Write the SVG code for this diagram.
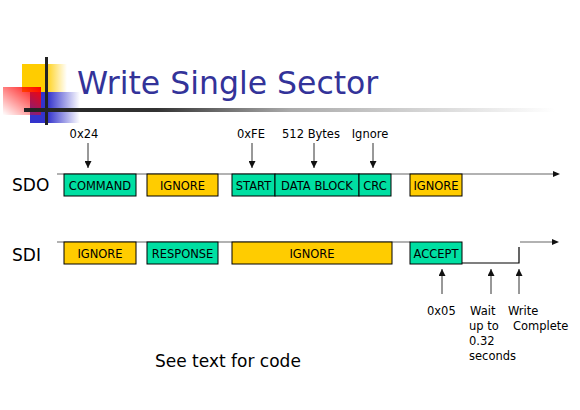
<svg xmlns="http://www.w3.org/2000/svg" width="580" height="410" viewBox="0 0 580 410">
<defs>
<linearGradient id="gy" x1="0" y1="0" x2="1" y2="0"><stop offset="0" stop-color="#FFCC00"/><stop offset="0.5" stop-color="#FFCC00"/><stop offset="1" stop-color="#FFCC00" stop-opacity="0"/></linearGradient>
<linearGradient id="gb" x1="0" y1="0" x2="1" y2="0"><stop offset="0" stop-color="#3333CC"/><stop offset="0.35" stop-color="#3333CC"/><stop offset="1" stop-color="#3333CC" stop-opacity="0"/></linearGradient>
<linearGradient id="gr" x1="1" y1="0" x2="0" y2="1"><stop offset="0" stop-color="#FF0000"/><stop offset="1" stop-color="#FF0000" stop-opacity="0"/></linearGradient>
<linearGradient id="gl" gradientUnits="userSpaceOnUse" x1="24" y1="0" x2="555" y2="0"><stop offset="0" stop-color="#222"/><stop offset="0.25" stop-color="#333"/><stop offset="0.5" stop-color="#aaa"/><stop offset="1" stop-color="#fff"/></linearGradient>
<marker id="ah" viewBox="0 0 10 10" refX="10" refY="5" markerWidth="7" markerHeight="7" markerUnits="userSpaceOnUse" orient="auto"><path d="M0,0 L10,5 L0,10 z" fill="#111"/></marker>
</defs>
<style>
.t{font-family:"DejaVu Sans",Verdana,sans-serif;font-size:11.5px;fill:#000}
.bt{font-family:"DejaVu Sans",Verdana,sans-serif;font-size:11.5px;fill:#000;text-anchor:middle}
.sig{font-family:"DejaVu Sans",Verdana,sans-serif;font-size:17px;fill:#000}
.teal{fill:#00DFA2;stroke:#000;stroke-width:1}
.yel{fill:#FFCC00;stroke:#000;stroke-width:1}
.ln{stroke:#999;stroke-width:1.5;fill:none}
.ar{stroke:#333;stroke-width:1;fill:none;marker-end:url(#ah)}
</style>
<g id="decor">
<rect x="22" y="64" width="45" height="28" fill="url(#gy)"/>
<rect x="30" y="92" width="50" height="31" fill="url(#gb)"/>
<rect x="3" y="87" width="38" height="28" fill="url(#gr)"/>
<rect x="45" y="57" width="3" height="68" fill="#222"/>
<rect x="24" y="108" width="536" height="4" fill="url(#gl)"/>
</g>
<text id="title" x="77" y="94" font-family="DejaVu Sans,Verdana,sans-serif" font-size="31.5" fill="#333399">Write Single Sector</text>
<text id="lblSDO" class="sig" x="12" y="191">SDO</text>
<text id="lblSDI" class="sig" x="12" y="261">SDI</text>
<g id="connectors">
<line class="ln" x1="57" y1="174" x2="553" y2="174"/>
<path d="M553,171 L560,174 L553,177 z" fill="#111"/>
<line class="ln" x1="57" y1="242" x2="410" y2="242"/>
<polyline points="462,263 519,263 519,247" fill="none" stroke="#000" stroke-width="1.2"/>
<line class="ln" x1="520" y1="242" x2="552" y2="242"/>
<path d="M552,239 L559,242 L552,245 z" fill="#111"/>
<line class="ar" x1="88" y1="143" x2="88" y2="168"/>
<line class="ar" x1="252" y1="143" x2="252" y2="168"/>
<line class="ar" x1="314" y1="143" x2="314" y2="168"/>
<line class="ar" x1="373" y1="143" x2="373" y2="168" stroke="#000" stroke-width="1.5"/>
<line class="ar" x1="442" y1="294" x2="442" y2="269"/>
<line class="ar" x1="491" y1="294" x2="491" y2="269"/>
<line class="ar" x1="519" y1="294" x2="519" y2="269" stroke="#000" stroke-width="1.5"/>
</g>
<g id="sdo-command"><rect class="teal" x="64" y="174" width="72" height="22"/><text class="bt" x="100" y="190">COMMAND</text></g>
<g id="sdo-ignore1"><rect class="yel" x="147" y="174" width="71" height="22"/><text class="bt" x="182.5" y="190">IGNORE</text></g>
<g id="sdo-start"><rect class="teal" x="232" y="174" width="43" height="22"/><text class="bt" x="253.5" y="190">START</text></g>
<g id="sdo-data"><rect class="teal" x="275" y="174" width="84" height="22"/><text class="bt" x="317" y="190">DATA BLOCK</text></g>
<g id="sdo-crc"><rect class="teal" x="359" y="174" width="32" height="22"/><text class="bt" x="375" y="190">CRC</text></g>
<g id="sdo-ignore2"><rect class="yel" x="410" y="174" width="52" height="22"/><text class="bt" x="436" y="190">IGNORE</text></g>
<g id="sdi-ignore1"><rect class="yel" x="64" y="242" width="72" height="22"/><text class="bt" x="100" y="258">IGNORE</text></g>
<g id="sdi-response"><rect class="teal" x="147" y="242" width="71" height="22"/><text class="bt" x="182.5" y="258">RESPONSE</text></g>
<g id="sdi-ignore2"><rect class="yel" x="232" y="242" width="160" height="22"/><text class="bt" x="312" y="258">IGNORE</text></g>
<g id="sdi-accept"><rect class="teal" x="410" y="242" width="52" height="22"/><text class="bt" x="436" y="258">ACCEPT</text></g>
<g id="labels">
<text class="bt" x="84" y="138">0x24</text>
<text class="bt" x="251" y="138">0xFE</text>
<text class="bt" x="311" y="138">512 Bytes</text>
<text class="bt" x="370" y="138">Ignore</text>
<text class="t" x="427" y="315">0x05</text>
<text class="t" x="470" y="315">Wait</text>
<text class="t" x="469" y="330">up to</text>
<text class="t" x="469" y="345">0.32</text>
<text class="t" x="469" y="360">seconds</text>
<text class="t" x="508" y="315">Write</text>
<text class="t" x="513" y="330">Complete</text>
</g>
<text id="note" class="sig" x="155" y="367">See text for code</text>
</svg>
